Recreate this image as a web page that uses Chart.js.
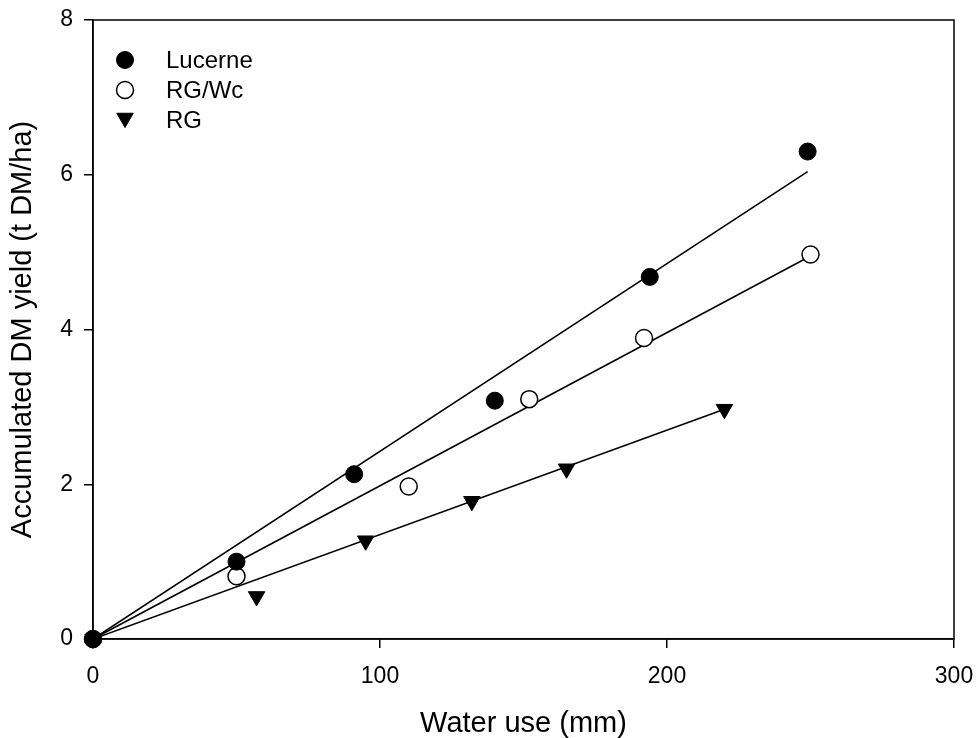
<!DOCTYPE html>
<html>
<head>
<meta charset="utf-8">
<script src="https://cdn.jsdelivr.net/npm/chart.js@4"></script>
<style>
    html, body { margin: 0; padding: 0; background: #fff; }
    #wrap { width: 978px; height: 738px; }
</style>
</head>
<body>
<div id="wrap"><canvas id="grafico" width="978" height="738"></canvas></div>
<script>
// Datos
const nombres = ["Lucerne", "RG/Wc", "RG"];

const lucerneX = [0, 50, 91, 140, 194, 249];
const lucerneY = [0, 1.0, 2.13, 3.08, 4.68, 6.30];

const rgwcX = [0, 50, 110, 152, 192, 250];
const rgwcY = [0, 0.81, 1.97, 3.10, 3.89, 4.97];

const rgX = [0, 57, 95, 132, 165, 220];
const rgY = [0, 0.55, 1.27, 1.78, 2.20, 2.97];

// Rectas de regresión (inicio y fin)
const lineaLucerneX = [0, 249];
const lineaLucerneY = [0, 6.04];
const lineaRgwcX = [0, 250];
const lineaRgwcY = [0, 4.95];
const lineaRgX = [0, 220];
const lineaRgY = [0, 2.97];

const ticksX = [0, 100, 200, 300];
const ticksY = [0, 2, 4, 6, 8];

const puntos = (xs, ys) => xs.map((x, i) => ({ x, y: ys[i] }));

const estilos = [
    { pointStyle: "circle", radius: 8.5, rotation: 0, bg: "#000", borderWidth: 1 },
    { pointStyle: "circle", radius: 8.5, rotation: 0, bg: "#fff", borderWidth: 1.5 },
    { pointStyle: "triangle", radius: 9.5, rotation: 180, bg: "#000", borderWidth: 1 }
];

function serie(nombre, xs, ys, e) {
    return {
        label: nombre,
        data: puntos(xs, ys),
        showLine: false,
        pointStyle: e.pointStyle,
        pointRadius: e.radius,
        pointRotation: e.rotation,
        pointBackgroundColor: e.bg,
        pointBorderColor: "#000",
        pointBorderWidth: e.borderWidth,
        pointHoverRadius: e.radius,
        clip: false
    };
}

function linea(xs, ys) {
    return {
        label: "",
        data: puntos(xs, ys),
        showLine: true,
        borderColor: "#000",
        borderWidth: 1.6,
        pointRadius: 0,
        fill: false
    };
}

// Marco superior y derecho
const marco = {
    id: "marco",
    beforeDatasetsDraw(chart) {
        const { ctx, chartArea: a } = chart;
        ctx.save();
        ctx.strokeStyle = "#000";
        ctx.lineWidth = 1.5;
        ctx.strokeRect(a.left, a.top, a.right - a.left, a.bottom - a.top);
        ctx.restore();
    }
};

// Leyenda dentro del área
const leyenda = {
    id: "leyenda",
    afterDraw(chart) {
        const { ctx } = chart;
        ctx.save();
        ctx.font = "24px 'Liberation Sans', Arial, sans-serif";
        ctx.textBaseline = "middle";
        ctx.textAlign = "left";
        nombres.forEach((n, i) => {
            const e = estilos[i];
            const y = 60 + i * 30;
            ctx.fillStyle = e.bg;
            ctx.strokeStyle = "#000";
            ctx.lineWidth = e.borderWidth;
            Chart.helpers.drawPoint(ctx, {
                pointStyle: e.pointStyle,
                radius: e.radius,
                rotation: e.rotation,
                borderWidth: e.borderWidth
            }, 125, y + (e.pointStyle === "triangle" ? -2 : 0));
            ctx.fillStyle = "#000";
            ctx.fillText(n, 166, y + 1);
        });
        ctx.restore();
    }
};

const fuente = "'Liberation Sans', Arial, sans-serif";

// quitar el relleno extra que Chart.js añade por las etiquetas
function sinRelleno(s) {
    s.paddingTop = 0;
    s.paddingBottom = 0;
    s.paddingLeft = 0;
    s.paddingRight = 0;
}

new Chart(document.getElementById("grafico"), {
    type: "scatter",
    data: {
        datasets: [
            serie(nombres[0], lucerneX, lucerneY, estilos[0]),
            serie(nombres[1], rgwcX, rgwcY, estilos[1]),
            serie(nombres[2], rgX, rgY, estilos[2]),
            linea(lineaLucerneX, lineaLucerneY),
            linea(lineaRgwcX, lineaRgwcY),
            linea(lineaRgX, lineaRgY)
        ]
    },
    options: {
        responsive: false,
        animation: false,
        layout: { padding: { top: 20, right: 24, left: 0, bottom: 0 } },
        plugins: {
            legend: { display: false },
            tooltip: { enabled: false }
        },
        scales: {
            x: {
                type: "linear",
                min: 0,
                max: 300,
                afterFit: s => { s.height = 99; sinRelleno(s); },
                afterBuildTicks: s => { s.ticks = ticksX.map(v => ({ value: v })); },
                ticks: { color: "#000", padding: 15, font: { family: fuente, size: 23 } },
                grid: { drawOnChartArea: false, drawTicks: true, tickLength: 9, color: "#000", lineWidth: 1.5 },
                border: { display: true, color: "#000", width: 1.5 },
                title: {
                    display: true,
                    text: "Water use (mm)",
                    color: "#000",
                    font: { family: fuente, size: 29, lineHeight: 1 },
                    padding: { top: 0, bottom: 0 }
                }
            },
            y: {
                type: "linear",
                min: 0,
                max: 8,
                afterFit: s => { s.width = 93; sinRelleno(s); },
                afterBuildTicks: s => { s.ticks = ticksY.map(v => ({ value: v })); },
                ticks: { color: "#000", padding: 11, font: { family: fuente, size: 23 } },
                grid: { drawOnChartArea: false, drawTicks: true, tickLength: 9, color: "#000", lineWidth: 1.5 },
                border: { display: true, color: "#000", width: 1.5 },
                title: {
                    display: true,
                    text: "Accumulated DM yield (t DM/ha)",
                    color: "#000",
                    font: { family: fuente, size: 29, lineHeight: 1 },
                    padding: { top: 8, bottom: 0 }
                }
            }
        }
    },
    plugins: [marco, leyenda]
});
</script>
</body>
</html>
